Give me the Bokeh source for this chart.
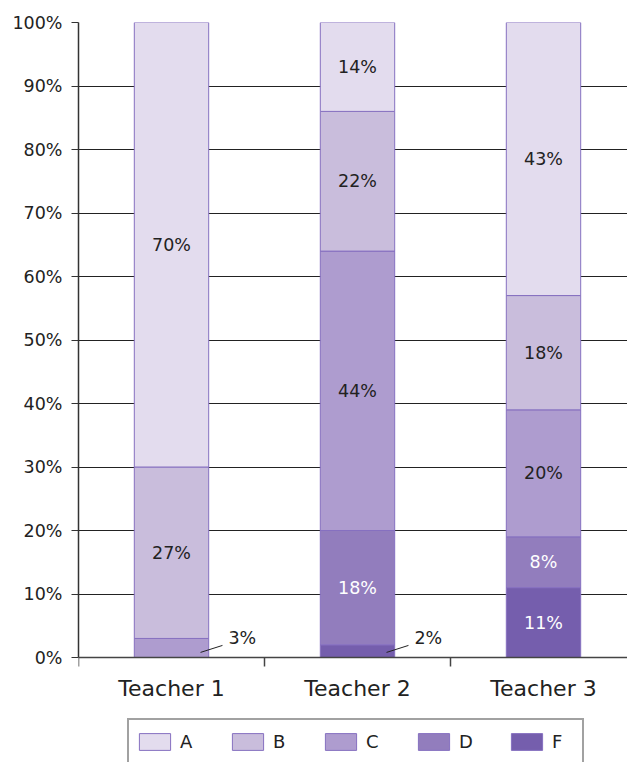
from bokeh.plotting import figure
from bokeh.models import (ColumnDataSource, Range1d, FixedTicker, PrintfTickFormatter,
                          Legend, LegendItem, Span)
from bokeh.core.properties import value
from bokeh.embed import file_html
from bokeh.resources import INLINE

# ---------------- data ----------------
teachers = ["Teacher 1", "Teacher 2", "Teacher 3"]
grade_A = [70, 14, 43]
grade_B = [27, 22, 18]
grade_C = [3, 44, 20]
grade_D = [0, 18, 8]
grade_F = [0, 2, 11]
y_ticks = [0, 10, 20, 30, 40, 50, 60, 70, 80, 90, 100]
legend_order = ["A", "B", "C", "D", "F"]
stack_order = ["F", "D", "C", "B", "A"]  # bottom -> top

# ---------------- styles / layout ----------------
FONT = "DejaVu Sans"
colors = {"A": "#e3dcee", "B": "#c9bddc", "C": "#ae9ccf", "D": "#927dbd", "F": "#755ead"}
label_colors = {"A": "#222222", "B": "#222222", "C": "#222222", "D": "#ffffff", "F": "#ffffff"}
OUTLINE = "#8670c0"
AXIS_COLOR = "#444444"
BAR_W = 0.4
PX_PER_CAT = 186.0
PX_PER_PCT = 6.35
Y_MIN = -105 / PX_PER_PCT        # room below the 0% line for the category labels and legend
TICK_LEN = 9 / PX_PER_PCT
CAT_LABEL_Y = -31 / PX_PER_PCT

values = {"A": grade_A, "B": grade_B, "C": grade_C, "D": grade_D, "F": grade_F}
xs = [i + 0.5 for i in range(len(teachers))]
bounds = [float(i) for i in range(len(teachers) + 1)]

src = ColumnDataSource(dict(x=xs, **{g: values[g] for g in stack_order}))

p = figure(width=627, height=762, output_backend="svg", toolbar_location=None,
           x_range=Range1d(0, 549 / PX_PER_CAT), y_range=Range1d(Y_MIN, 100),
           min_border_left=78, min_border_right=0, min_border_top=22, min_border_bottom=0)
p.outline_line_color = None
p.background_fill_color = "white"
p.border_fill_color = "white"

# grid
p.xgrid.visible = False
p.ygrid.ticker = FixedTicker(ticks=[t for t in y_ticks if 0 < t < 100])
p.ygrid.grid_line_color = "#222222"
p.ygrid.grid_line_width = 1

renderers = p.vbar_stack(stack_order, x="x", width=BAR_W, source=src,
                         fill_color=[colors[g] for g in stack_order],
                         line_color=OUTLINE, line_width=1)
rmap = dict(zip(stack_order, renderers))

# category (x) axis drawn at the 0% line
p.add_layout(Span(location=0, dimension="width", line_color=AXIS_COLOR, line_width=1.5))
p.segment(x0=bounds, y0=[0] * len(bounds), x1=bounds, y1=[-TICK_LEN] * len(bounds),
          line_color=AXIS_COLOR, line_width=1.5)
p.text(x=xs, y=[CAT_LABEL_Y] * len(xs), text=teachers, text_color="#222222",
       text_align="center", text_baseline="middle",
       text_font=value(FONT), text_font_size="22px")

# value labels
in_x, in_y, in_t, in_c = [], [], [], []
out_x, out_y, out_t = [], [], []
l_x0, l_y0, l_x1, l_y1 = [], [], [], []
for i, x in enumerate(xs):
    bottom = 0
    for g in stack_order:
        v = values[g][i]
        mid = bottom + v / 2
        if v >= 5:
            in_x.append(x); in_y.append(mid); in_t.append(f"{v}%"); in_c.append(label_colors[g])
        elif v > 0:
            l_x0.append(x + 0.156); l_y0.append(0.8)
            l_x1.append(x + 0.274); l_y1.append(1.9)
            out_x.append(x + 0.306); out_y.append(3.1); out_t.append(f"{v}%")
        bottom += v

p.text(x="x", y="y", text="t", text_color="c",
       source=ColumnDataSource(dict(x=in_x, y=in_y, t=in_t, c=in_c)),
       text_align="center", text_baseline="middle",
       text_font=value(FONT), text_font_size="17.5px")
p.segment(x0=l_x0, y0=l_y0, x1=l_x1, y1=l_y1, line_color="#222222", line_width=1)
p.text(x=out_x, y=out_y, text=out_t, text_color="#222222",
       text_align="left", text_baseline="middle",
       text_font=value(FONT), text_font_size="17.5px")

# y axis
ya = p.yaxis[0]
ya.ticker = FixedTicker(ticks=y_ticks)
ya.bounds = (0, 100)
ya.formatter = PrintfTickFormatter(format="%d%%")
ya.axis_line_color = "#333333"
ya.axis_line_width = 1.5
ya.major_tick_line_color = "#333333"
ya.major_tick_out = 7
ya.major_tick_in = 0
ya.minor_tick_line_color = None
ya.major_label_standoff = 9
ya.major_label_text_font = FONT
ya.major_label_text_font_size = "17.5px"
ya.major_label_text_color = "#222222"

p.xaxis.visible = False

# legend
legend = Legend(items=[LegendItem(label=g, renderers=[rmap[g]]) for g in legend_order],
                orientation="horizontal", location=(49, -2),
                glyph_width=39, glyph_height=21, label_standoff=6, label_width=24,
                label_height=30, spacing=24, padding=6, margin=0,
                label_text_font=FONT, label_text_font_size="18px",
                label_text_color="#222222",
                border_line_color="#444444", border_line_width=2,
                background_fill_color="white", background_fill_alpha=1)
p.add_layout(legend)

open("out.html", "w").write(file_html(p, INLINE))
